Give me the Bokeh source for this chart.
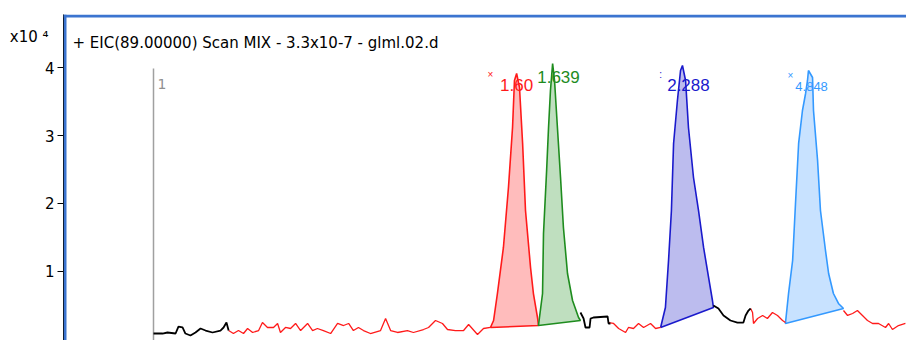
from bokeh.plotting import figure
from bokeh.models import Label, Span, FixedTicker, LinearAxis
from bokeh.embed import file_html
from bokeh.resources import INLINE

# ---------------- data (time in min, abundance in x10^4 counts) ----------------
title_text = "+ EIC(89.00000) Scan MIX - 3.3x10-7 - glml.02.d"
y_ticks = [1, 2, 3, 4]
exponent_text = "x10 ⁴"
exponent_pos = 4.447

# baseline segments
black1_t = [0.375, 0.413, 0.433, 0.467, 0.479, 0.496, 0.508, 0.529, 0.55, 0.571, 0.592, 0.621, 0.654, 0.667, 0.679, 0.688]
black1_v = [0.081, 0.081, 0.096, 0.081, 0.184, 0.170, 0.081, 0.052, 0.096, 0.155, 0.125, 0.096, 0.125, 0.170, 0.243, 0.125]

red1_t = [0.688, 0.708, 0.729, 0.75, 0.767, 0.788, 0.813, 0.829, 0.85, 0.875, 0.892, 0.904, 0.925, 0.946, 0.967,
          0.988, 1.017, 1.038, 1.058, 1.083, 1.113, 1.142, 1.167, 1.188, 1.208, 1.229, 1.25, 1.279, 1.321, 1.342,
          1.363, 1.392, 1.433, 1.458, 1.5, 1.521, 1.55, 1.579, 1.6, 1.633, 1.667, 1.688, 1.725, 1.75, 1.779]
red1_v = [0.125, 0.081, 0.125, 0.081, 0.155, 0.096, 0.125, 0.243, 0.170, 0.170, 0.229, 0.096, 0.170, 0.155, 0.229,
          0.125, 0.229, 0.125, 0.155, 0.125, 0.081, 0.229, 0.199, 0.229, 0.125, 0.170, 0.125, 0.081, 0.125, 0.302,
          0.125, 0.096, 0.125, 0.096, 0.140, 0.170, 0.273, 0.229, 0.140, 0.125, 0.125, 0.214, 0.066, 0.155, 0.170]

black2_t = [2.154, 2.167, 2.175, 2.192, 2.196, 2.208, 2.267, 2.271, 2.279]
black2_v = [0.391, 0.302, 0.170, 0.170, 0.302, 0.317, 0.332, 0.229, 0.229]

red2_t = [2.271, 2.292, 2.313, 2.342, 2.354, 2.375, 2.396, 2.417, 2.446, 2.467, 2.488]
red2_v = [0.243, 0.229, 0.155, 0.096, 0.170, 0.155, 0.229, 0.170, 0.229, 0.155, 0.170]

black3_t = [2.708, 2.729, 2.75, 2.779, 2.808, 2.833, 2.842, 2.854, 2.863]
black3_v = [0.494, 0.450, 0.347, 0.273, 0.243, 0.243, 0.347, 0.420, 0.450]

red3_t = [2.863, 2.871, 2.875, 2.892, 2.913, 2.933, 2.954, 2.975, 2.996, 3.008]
red3_v = [0.450, 0.391, 0.229, 0.302, 0.347, 0.302, 0.391, 0.347, 0.273, 0.243]

red4_t = [3.25, 3.267, 3.288, 3.308, 3.329, 3.35, 3.371, 3.396, 3.425, 3.438, 3.454, 3.479, 3.508]
red4_v = [0.420, 0.347, 0.376, 0.420, 0.347, 0.273, 0.229, 0.229, 0.170, 0.229, 0.140, 0.199, 0.229]

# integrated peaks
peak1_t = [1.779, 1.792, 1.808, 1.833, 1.854, 1.871, 1.879, 1.888, 1.9, 1.913, 1.925, 1.946, 1.958, 1.975, 1.979]
peak1_v = [0.170, 0.273, 0.671, 1.350, 2.235, 3.119, 3.813, 3.916, 3.709, 2.884, 1.895, 1.055, 0.671, 0.317, 0.199]

peak2_t = [1.979, 1.996, 2.0, 2.013, 2.021, 2.029, 2.038, 2.046, 2.058, 2.071, 2.083, 2.1, 2.121, 2.146, 2.154]
peak2_v = [0.199, 0.671, 1.556, 2.485, 3.119, 3.665, 4.063, 3.813, 3.119, 2.382, 1.645, 0.966, 0.568, 0.317, 0.273]

peak3_t = [2.488, 2.508, 2.521, 2.533, 2.542, 2.558, 2.571, 2.579, 2.592, 2.604, 2.625, 2.646, 2.667, 2.688, 2.704, 2.708]
peak3_v = [0.170, 0.465, 1.158, 1.895, 2.884, 3.518, 3.960, 4.034, 3.813, 3.119, 2.382, 1.895, 1.350, 0.907, 0.568, 0.465]

peak4_t = [3.008, 3.021, 3.038, 3.05, 3.063, 3.079, 3.092, 3.1, 3.104, 3.121, 3.125, 3.142, 3.154, 3.175, 3.188, 3.208, 3.229, 3.25]
peak4_v = [0.229, 0.671, 1.158, 1.999, 2.884, 3.370, 3.621, 3.813, 3.960, 3.857, 3.370, 2.633, 1.895, 1.305, 0.966, 0.671, 0.524, 0.450]

peak_labels = ["1.60", "1.639", "2.288", "4.848"]
peak_marks = ["×", "", ":", "×"]
peak_label_t = [1.888, 2.0625, 2.604, 3.117]
peak_label_v = [3.74, 3.857, 3.74, 3.724]
peak_mark_t = [1.779, None, 2.488, 3.029]
peak_line_colors = ["#ff1a1a", "#1e8c1e", "#1a1acc", "#3399ff"]
peak_fill_colors = ["#ffbcbc", "#bfdfbf", "#bcbcee", "#c8e2ff"]
peak_label_sizes = ["17px", "17px", "17px", "13px"]

marker_t = 0.375
marker_top = 3.99

# ---------------- figure ----------------
p = figure(width=906, height=340, x_range=(0, 3.5125), y_range=(-0.022, 4.786),
           min_border_left=63, min_border_right=0, min_border_top=14, min_border_bottom=0,
           output_backend="svg", toolbar_location=None)
p.outline_line_color = None
p.background_fill_color = "white"
p.border_fill_color = "white"
p.grid.visible = False
p.xaxis.visible = False

ax = p.yaxis[0]
ax.ticker = FixedTicker(ticks=y_ticks)
ax.major_tick_out = 6
ax.major_tick_in = 0
ax.minor_tick_line_color = None
ax.axis_line_color = "black"
ax.major_tick_line_color = "black"
ax.major_label_text_font = "DejaVu Sans"
ax.major_label_text_font_size = "15px"
ax.major_label_text_color = "black"
ax.major_label_standoff = 3

# exponent shown as a tick-less label axis further left
exp_axis = LinearAxis(ticker=FixedTicker(ticks=[exponent_pos]),
                      major_label_overrides={exponent_pos: exponent_text})
exp_axis.axis_line_color = None
exp_axis.major_tick_line_color = None
exp_axis.minor_tick_line_color = None
exp_axis.major_tick_out = 0
exp_axis.major_tick_in = 0
exp_axis.major_label_standoff = -7
exp_axis.major_label_text_font = "DejaVu Sans"
exp_axis.major_label_text_font_size = "15px"
exp_axis.major_label_text_color = "black"
p.add_layout(exp_axis, "left")

# blue window frame
p.add_layout(Span(location=4.764, dimension="width", line_color="#3b74d0", line_width=3))
p.add_layout(Span(location=0.00625, dimension="height", line_color="#3b74d0", line_width=3))

# scan-segment marker
p.segment(x0=[marker_t], y0=[-0.05], x1=[marker_t], y1=[marker_top], line_color="#a0a0a0", line_width=1.5)
p.add_layout(Label(x=marker_t + 0.017, y=3.754, text="1", text_font="DejaVu Sans",
                   text_font_size="14px", text_color="#909090", text_baseline="alphabetic"))

# peaks
peaks = [(peak1_t, peak1_v), (peak2_t, peak2_v), (peak3_t, peak3_v), (peak4_t, peak4_v)]
for (pt, pv), lc, fc in zip(peaks, peak_line_colors, peak_fill_colors):
    p.patch(pt, pv, fill_color=fc, line_color=lc, line_width=1.6)

# baseline trace
for t, v in [(red1_t, red1_v), (red2_t, red2_v), (red3_t, red3_v), (red4_t, red4_v)]:
    p.line(t, v, line_color="#ff1a1a", line_width=1.3)
for t, v in [(black1_t, black1_v), (black2_t, black2_v), (black3_t, black3_v)]:
    p.line(t, v, line_color="black", line_width=1.8)

# peak labels
for lab, mk, lt, lv, mt, col, sz in zip(peak_labels, peak_marks, peak_label_t, peak_label_v,
                                        peak_mark_t, peak_line_colors, peak_label_sizes):
    p.add_layout(Label(x=lt, y=lv, text=lab, text_font="Liberation Sans", text_font_size=sz,
                       text_color=col, text_align="center", text_baseline="alphabetic"))
    if mk:
        p.add_layout(Label(x=mt, y=lv + 0.16, text=mk, text_font="Liberation Sans", text_font_size="10px",
                           text_color=col, text_align="center", text_baseline="alphabetic"))

# title
p.add_layout(Label(x=0.0375, y=4.373, text=title_text, text_font="DejaVu Sans",
                   text_font_size="15px", text_color="black", text_baseline="alphabetic"))

open("out.html", "w").write(file_html(p, INLINE))
